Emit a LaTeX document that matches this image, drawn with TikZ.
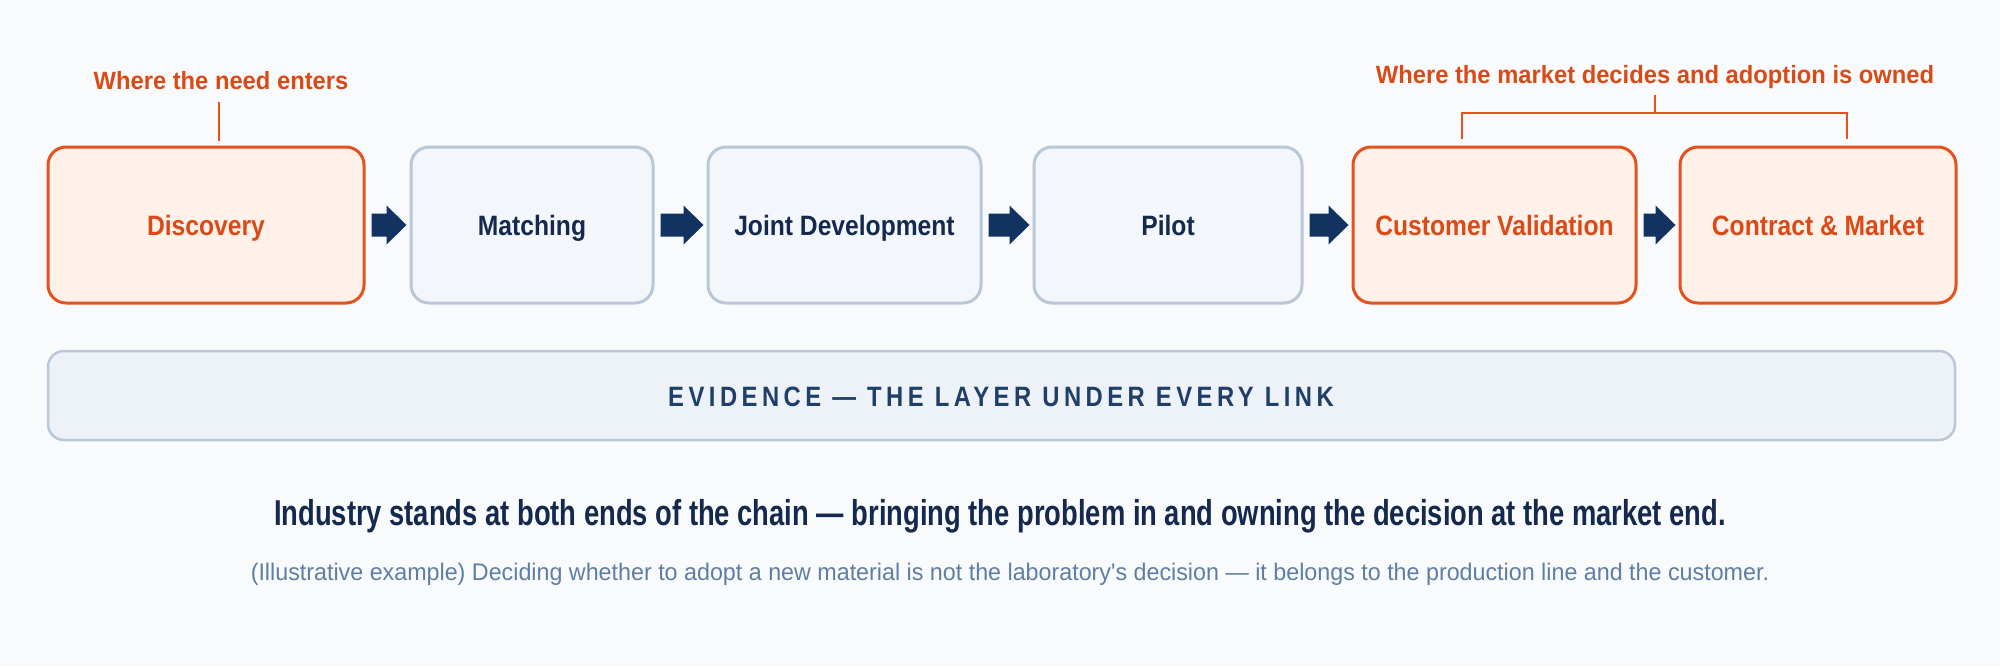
\documentclass[tikz,border=0pt]{standalone}
\usepackage{fontspec}
\setmainfont{Liberation Sans}
\newfontfamily\cnd[FakeStretch=0.88]{Liberation Sans}
\newfontfamily\notefont[FakeStretch=0.95]{Liberation Sans}
\newfontfamily\titlefont[FakeStretch=0.76]{Liberation Sans}
\newfontfamily\subfont[FakeStretch=0.97]{Liberation Sans}
\newfontfamily\cndsp[FakeStretch=0.85,LetterSpace=16]{Liberation Sans}
\usetikzlibrary{calc}
\definecolor{bg}{HTML}{F8FAFC}
\definecolor{org}{HTML}{E2531F}
\definecolor{orgtxt}{HTML}{DB4A16}
\definecolor{orgfill}{HTML}{FDF1EA}
\definecolor{gline}{HTML}{B9C8D9}
\definecolor{gfill}{HTML}{F3F6FA}
\definecolor{navy}{HTML}{14294D}
\definecolor{arr}{HTML}{123261}
\definecolor{evfill}{HTML}{EDF2F8}
\definecolor{evtxt}{HTML}{1F3E68}
\definecolor{subtxt}{HTML}{5F7EA3}
\newcommand\flowarrow[2]{\path let \p1=(#1.east), \p2=(#2.west) in [fill=arr]
  (\x1+6pt,\y1+11.5pt) -- (\x2-23pt,\y1+11.5pt) -- (\x2-23pt,\y1+19.5pt) -- (\x2-3pt,\y1)
  -- (\x2-23pt,\y1-19.5pt) -- (\x2-23pt,\y1-11.5pt) -- (\x1+6pt,\y1-11.5pt) -- cycle;}
\begin{document}
\begin{tikzpicture}[x=1pt,y=-1pt,
 stage/.style={rounded corners=18pt, line width=3pt, minimum height=156pt, inner sep=0pt,
   text height=20pt, text depth=0pt,
   font=\cnd\bfseries\fontsize{28}{30}\selectfont},
 hot/.style={stage, draw=org, fill=orgfill, text=orgtxt},
 cool/.style={stage, draw=gline, fill=gfill, text=navy},
 note/.style={text=orgtxt, font=\notefont\bfseries\fontsize{25}{27}\selectfont, inner sep=0pt, anchor=base},
 noteline/.style={draw=org, line width=2pt}
]
\fill[bg] (0,0) rectangle (2000,667);
\useasboundingbox (0,0) rectangle (2000,667);

\node[hot,  minimum width=316pt] (disc)  at (206,225)   {Discovery};
\node[cool, minimum width=242pt] (match) at (532,225)   {Matching};
\node[cool, minimum width=273pt] (joint) at (844.5,225) {Joint Development};
\node[cool, minimum width=268pt] (pilot) at (1168,225)  {Pilot};
\node[hot,  minimum width=283pt] (cval)  at (1494.5,225){Customer Validation};
\node[hot,  minimum width=276pt] (cmkt)  at (1818,225)  {Contract \& Market};

\flowarrow{disc}{match}
\flowarrow{match}{joint}
\flowarrow{joint}{pilot}
\flowarrow{pilot}{cval}
\flowarrow{cval}{cmkt}

\node[note] (need) at (221,89) {Where the need enters};
\coordinate (needtop) at (219,102);
\coordinate (needbot) at (219,141);
\draw[noteline] (needtop) -- (needbot);

\node[note] (mkt) at (1655,83) {Where the market decides and adoption is owned};
\coordinate (stemtop) at (1655,95);
\coordinate (stembot) at (1655,113);
\coordinate (brl) at (1462,139);
\coordinate (brr) at (1847,139);
\draw[noteline] (stemtop) -- (stembot);
\draw[noteline] (brl) |- (stembot) -| (brr);

\node[rounded corners=16pt, draw=gline, fill=evfill, line width=2.5pt,
  minimum width=1907pt, minimum height=89pt, inner sep=0pt] (ev) at (1001.5,395.5) {};
\node[text=evtxt, font=\cndsp\bfseries\fontsize{28}{30}\selectfont, inner sep=0pt, anchor=base]
  (evlabel) at (1001,406) {EVIDENCE — THE LAYER UNDER EVERY LINK};

\node[text=navy, font=\titlefont\bfseries\fontsize{36}{40}\selectfont, inner sep=0pt, anchor=base] (title) at (1000,525)
  {Industry stands at both ends of the chain — bringing the problem in and owning the decision at the market end.};
\node[text=subtxt, font=\subfont\fontsize{24}{26}\selectfont, inner sep=0pt, anchor=base] (subt) at (1010,580)
  {(Illustrative example) Deciding whether to adopt a new material is not the laboratory's decision — it belongs to the production line and the customer.};
\end{tikzpicture}
\end{document}
